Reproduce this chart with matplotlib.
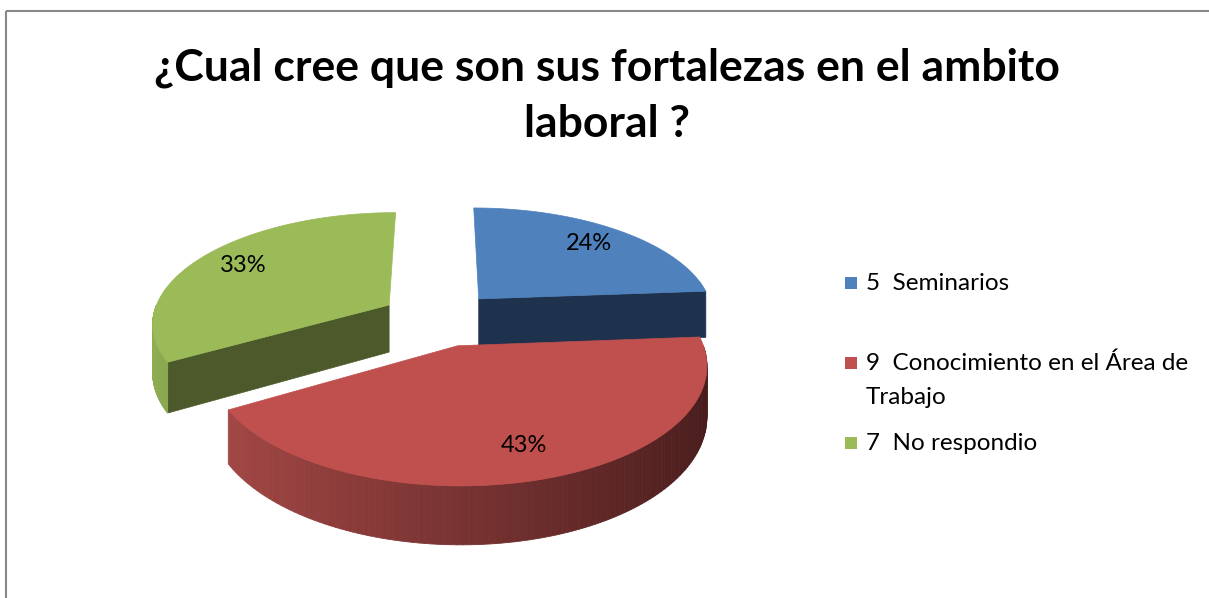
import numpy as np
import matplotlib
matplotlib.use("Agg")
import matplotlib.pyplot as plt
from matplotlib.patches import Polygon, Rectangle

# data
categories = ["5  Seminarios", "9  Conocimiento en el Área de\nTrabajo", "7  No respondio"]
counts = [5, 9, 7]
top_colors = ["#4F81BD", "#C0504D", "#9BBB59"]
side_light = [(0.31, 0.50, 0.74), (0.66, 0.29, 0.28), (0.56, 0.68, 0.32)]
side_dark = [(0.12, 0.20, 0.31), (0.28, 0.11, 0.11), (0.30, 0.35, 0.17)]
cut_colors = ["#1F324D", "#4A1B1B", "#4C5A2B"]

title_lines = ["¿Cual cree que son sus fortalezas en el ambito", "laboral ?"]

# 3d pie projection (pixels)
CX, CY = 439.5, 318.5
A, B, H = 237.0, 110.0, 48.0
P = 0.15
EXPLODE = 0.25


def proj(X, Z, h=0.0):
    s = 1.0 / (1.0 + P * Z)
    return CX + A * X * s, CY - B * Z * s + H * h * s


fig = plt.figure(figsize=(12.09, 5.98), dpi=100)
ax = fig.add_axes([0, 0, 1, 1])
ax.set_xlim(0, 1209)
ax.set_ylim(598, 0)
ax.axis('off')

plt.rcParams['font.family'] = ['Lato', 'DejaVu Sans']

total = float(sum(counts))
angles = np.cumsum([0] + [c / total * 360.0 for c in counts])

slices = []
for i in range(len(counts)):
    a0, a1 = angles[i], angles[i + 1]
    mid = np.radians((a0 + a1) / 2)
    ox, oz = EXPLODE * np.sin(mid), EXPLODE * np.cos(mid)
    slices.append((a0, a1, ox, oz))


def draw_slice(i):
    a0, a1, ox, oz = slices[i]
    # cut faces whose normal points to the viewer
    for a, sign in [(a0, -1), (a1, 1)]:
        n = np.radians(a + sign * 90)
        if np.cos(n) < -0.05:
            r = np.radians(a)
            pts = [proj(ox, oz), proj(ox + np.sin(r), oz + np.cos(r)),
                   proj(ox + np.sin(r), oz + np.cos(r), 1), proj(ox, oz, 1)]
            ax.add_patch(Polygon(pts, closed=True, fc=cut_colors[i], ec=cut_colors[i], lw=0.5))
    # rim (front half only)
    lo, hi = max(a0, 90.0), min(a1, 270.0)
    if hi > lo:
        t = np.linspace(lo, hi, 120)
        for k in range(len(t) - 1):
            r0, r1 = np.radians(t[k]), np.radians(t[k + 1])
            q = (1 - np.sin((r0 + r1) / 2)) / 2
            col = tuple(d + q * (l - d) for l, d in zip(side_light[i], side_dark[i]))
            pts = [proj(ox + np.sin(r0), oz + np.cos(r0)), proj(ox + np.sin(r1), oz + np.cos(r1)),
                   proj(ox + np.sin(r1), oz + np.cos(r1), 1), proj(ox + np.sin(r0), oz + np.cos(r0), 1)]
            ax.add_patch(Polygon(pts, closed=True, fc=col, ec=col, lw=0.6))
    # top
    t = np.radians(np.linspace(a0, a1, 200))
    pts = [proj(ox, oz)] + [proj(ox + np.sin(r), oz + np.cos(r)) for r in t]
    ax.add_patch(Polygon(pts, closed=True, fc=top_colors[i], ec=top_colors[i], lw=0.5))
    # label
    mid = np.radians((a0 + a1) / 2)
    lx, ly = proj(ox + 0.78 * np.sin(mid), oz + 0.78 * np.cos(mid))
    ax.text(lx, ly, "%d%%" % round(counts[i] / total * 100), ha='center', va='center',
            fontsize=17, color='black')


# back to front
for i in [2, 0, 1]:
    draw_slice(i)

for k, line in enumerate(title_lines):
    ax.text(607, 80 + 57 * k, line, ha='center', va='baseline', fontsize=32,
            fontweight='bold')

# legend
leg_y = [283, 363, 443]
for i, lab in enumerate(categories):
    ax.add_patch(Rectangle((845, leg_y[i] - 6), 12, 12, fc=top_colors[i], ec='none'))
    for j, part in enumerate(lab.split('\n')):
        ax.text(866, leg_y[i] + 34 * j, part, ha='left', va='center', fontsize=17.5)

# chart border
ax.add_patch(Rectangle((6, 11), 1300, 700, fill=False, ec='#888888', lw=1.5, clip_on=False))

fig.savefig("out.png", dpi=100)
